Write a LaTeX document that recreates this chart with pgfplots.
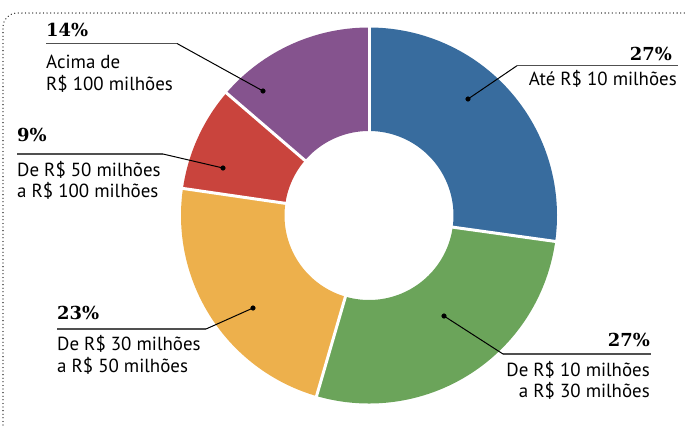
\documentclass[border=0pt]{standalone}
\usepackage{pgfplots}
\pgfplotsset{compat=1.18}
\usepackage{fontspec}
\setmainfont{PT Sans}
\newfontfamily\pctfont{DejaVu Serif}
\definecolor{cblue}{HTML}{386C9E}
\definecolor{cgreen}{HTML}{6BA45A}
\definecolor{cyellow}{HTML}{EDB04C}
\definecolor{cred}{HTML}{C9443D}
\definecolor{cpurple}{HTML}{85538E}
\definecolor{rulegray}{HTML}{505050}
\newcommand{\lbl}{\fontsize{19}{19}\selectfont}
\newcommand{\pct}{\pctfont\bfseries\fontsize{18}{18}\selectfont}
\begin{document}
\begin{tikzpicture}
\begin{axis}[name=ax, x=1bp, y=1bp, xmin=0, xmax=685, ymin=0, ymax=425,
  y dir=reverse, hide axis, clip=false, enlargelimits=false]
% dotted frame
\addplot[black, line width=1.3bp, dash pattern=on 0pt off 3.6bp, line cap=round, rounded corners=14bp]
  coordinates {(3,425) (3,13) (685,13)};
% donut slices (shares as drawn: 27.2, 27.3, 22.8, 9.0, 13.7), clockwise from top
\addplot[cblue, line width=103.5bp, domain={90-3.6*27.2}:90, samples=120, line join=round]
  ({369+136.25*cos(x)},{215.5-136.25*sin(x)});
\addplot[cgreen, line width=103.5bp, domain={90-3.6*54.5}:{90-3.6*27.2}, samples=120, line join=round]
  ({369+136.25*cos(x)},{215.5-136.25*sin(x)});
\addplot[cyellow, line width=103.5bp, domain={90-3.6*77.3}:{90-3.6*54.5}, samples=120, line join=round]
  ({369+136.25*cos(x)},{215.5-136.25*sin(x)});
\addplot[cred, line width=103.5bp, domain={90-3.6*86.3}:{90-3.6*77.3}, samples=60, line join=round]
  ({369+136.25*cos(x)},{215.5-136.25*sin(x)});
\addplot[cpurple, line width=103.5bp, domain={90-3.6*100}:{90-3.6*86.3}, samples=80, line join=round]
  ({369+136.25*cos(x)},{215.5-136.25*sin(x)});
% white separators
\foreach \c in {0,27.2,54.5,77.3,86.3}{
  \addplot[white, line width=3bp, domain=80:192, samples=2]
    ({369+x*cos(90-3.6*\c)},{215.5-x*sin(90-3.6*\c)});
}
% leaders
\addplot[rulegray, line width=1.1bp] coordinates {(46,43.5) (177,43.5)};
\addplot[black, line width=1bp] coordinates {(177,43.5) (263,91)};
\addplot[rulegray, line width=1.1bp] coordinates {(17,154) (163,154)};
\addplot[black, line width=1bp] coordinates {(163,154) (223,168)};
\addplot[rulegray, line width=1.1bp] coordinates {(517,65.7) (678,65.7)};
\addplot[black, line width=1bp] coordinates {(517,65.7) (468,99)};
\addplot[rulegray, line width=1.1bp] coordinates {(503,354) (651,354)};
\addplot[black, line width=1bp] coordinates {(503,354) (444,316)};
\addplot[rulegray, line width=1.1bp] coordinates {(57,329) (206,329)};
\addplot[black, line width=1bp] coordinates {(206,329) (253,308)};
\addplot[only marks, mark=*, mark size=2.3bp, black] coordinates {(263,91) (223,168) (468,99) (444,316) (253,308)};
% labels
\node[anchor=base west, inner sep=0pt, font=\pct] at (axis cs:46,36) {14\%};
\node[anchor=base west, inner sep=0pt, font=\lbl] at (axis cs:46,68) {Acima de};
\node[anchor=base west, inner sep=0pt, font=\lbl] at (axis cs:46,90) {R\$ 100 milhões};
\node[anchor=base west, inner sep=0pt, font=\pct] at (axis cs:17,141.5) {9\%};
\node[anchor=base west, inner sep=0pt, font=\lbl] at (axis cs:17,176) {De R\$ 50 milhões};
\node[anchor=base west, inner sep=0pt, font=\lbl] at (axis cs:17,197) {a R\$ 100 milhões};
\node[anchor=base east, inner sep=0pt, font=\pct] at (axis cs:672,60) {27\%};
\node[anchor=base east, inner sep=0pt, font=\lbl] at (axis cs:677,85) {Até R\$ 10 milhões};
\node[anchor=base east, inner sep=0pt, font=\pct] at (axis cs:650,346.5) {27\%};
\node[anchor=base east, inner sep=0pt, font=\lbl] at (axis cs:650,376) {De R\$ 10 milhões};
\node[anchor=base east, inner sep=0pt, font=\lbl] at (axis cs:650,397.5) {a R\$ 30 milhões};
\node[anchor=base west, inner sep=0pt, font=\pct] at (axis cs:57,319.5) {23\%};
\node[anchor=base west, inner sep=0pt, font=\lbl] at (axis cs:57,350) {De R\$ 30 milhões};
\node[anchor=base west, inner sep=0pt, font=\lbl] at (axis cs:57,372) {a R\$ 50 milhões};
\end{axis}
\pgfresetboundingbox
\path (ax.south west) rectangle (ax.north east);
\end{tikzpicture}
\end{document}
